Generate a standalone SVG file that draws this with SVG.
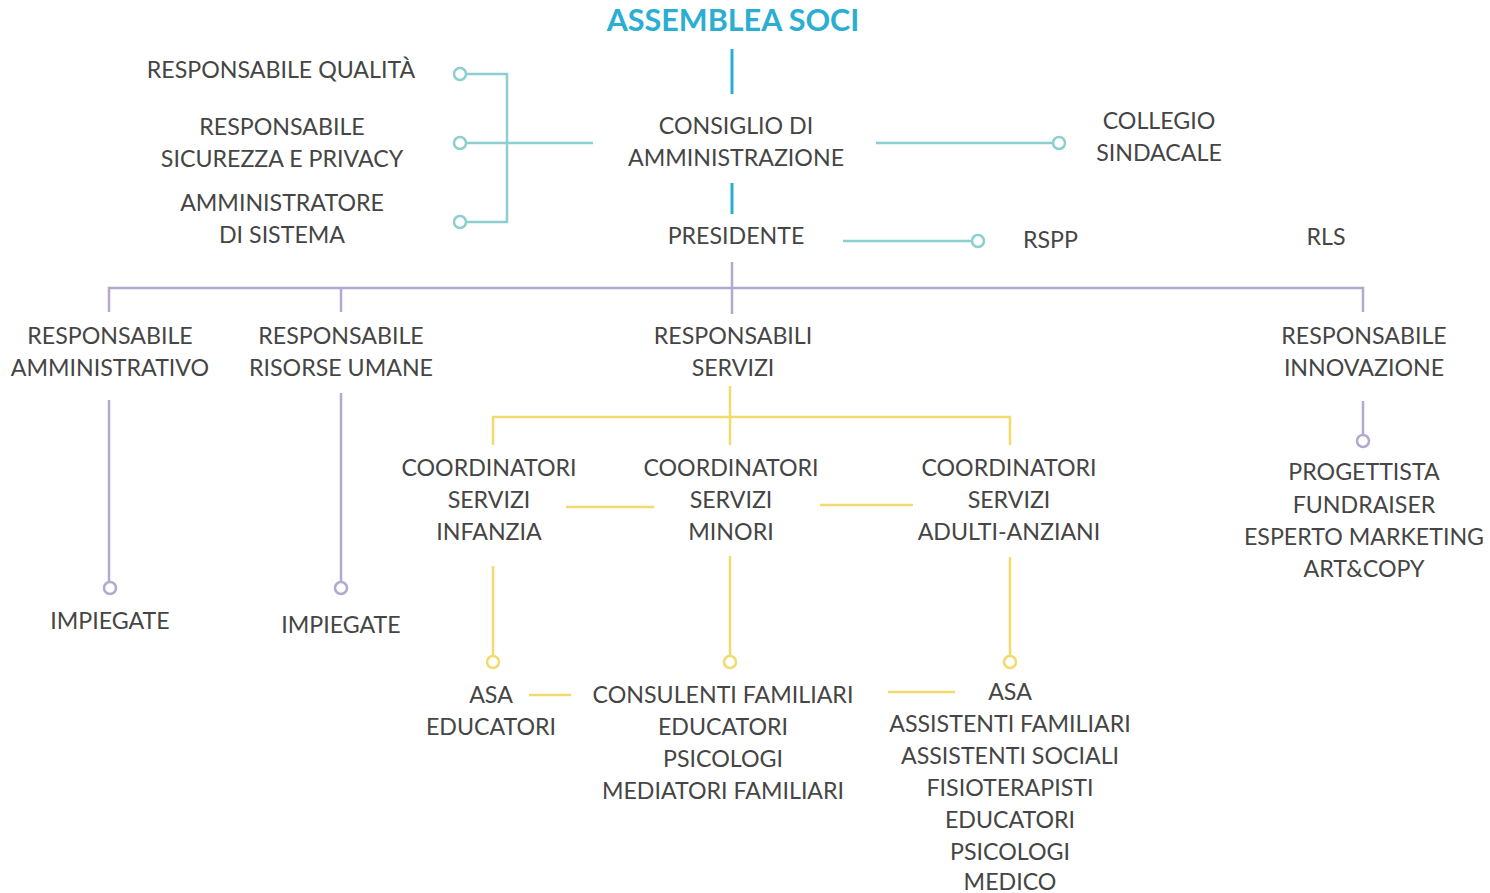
<svg xmlns="http://www.w3.org/2000/svg" width="1490" height="893" viewBox="0 0 1490 893">
<style>
text{font-family:Lato,"Open Sans","Liberation Sans",sans-serif;font-size:23.2px;fill:#454545;text-anchor:middle}
.title{font-size:30.5px;font-weight:bold;fill:#2aaed2}
.st{text-anchor:start}
.blue{stroke:#2aaed2;stroke-width:3;fill:none}
.teal{stroke:#8dcfcf;stroke-width:2.5;fill:none}
.tealc{stroke:#8dcfcf;stroke-width:2.5;fill:#fff}
.pur{stroke:#b3a9cf;stroke-width:2.5;fill:none}
.purc{stroke:#b3a9cf;stroke-width:2.5;fill:#fff}
.yel{stroke:#f2da6c;stroke-width:2.5;fill:none}
.yelc{stroke:#f2da6c;stroke-width:2.5;fill:#fff}
</style>
<g id="connectors">
<line class="blue" x1="732" y1="49" x2="732" y2="94"/>
<line class="blue" x1="732" y1="183" x2="732" y2="214"/>
<path class="teal" d="M466 74H507V222H466M466 143H593"/>
<circle class="tealc" cx="460" cy="74" r="6"/>
<circle class="tealc" cx="460" cy="143" r="6"/>
<circle class="tealc" cx="460" cy="222" r="6"/>
<line class="teal" x1="876" y1="143" x2="1052" y2="143"/>
<circle class="tealc" cx="1059" cy="143" r="6"/>
<line class="teal" x1="843" y1="241" x2="971" y2="241"/>
<circle class="tealc" cx="978" cy="241" r="6"/>
<path class="pur" d="M732 262V314M109 312V288H1363V312M341 288V312"/>
<line class="pur" x1="109" y1="400" x2="109" y2="581"/>
<circle class="purc" cx="110" cy="588" r="6"/>
<line class="pur" x1="341" y1="393" x2="341" y2="581"/>
<circle class="purc" cx="341" cy="588" r="6"/>
<line class="pur" x1="1363" y1="401" x2="1363" y2="434"/>
<circle class="purc" cx="1363" cy="441" r="6"/>
<path class="yel" d="M730 386V445M493 445V417H1010V445"/>
<line class="yel" x1="566" y1="507" x2="654" y2="507"/>
<line class="yel" x1="820" y1="505" x2="913" y2="505"/>
<line class="yel" x1="493" y1="566" x2="493" y2="655"/>
<circle class="yelc" cx="493" cy="662" r="6"/>
<line class="yel" x1="730" y1="556" x2="730" y2="655"/>
<circle class="yelc" cx="730" cy="662" r="6"/>
<line class="yel" x1="1010" y1="557" x2="1010" y2="655"/>
<circle class="yelc" cx="1010" cy="662" r="6"/>
<line class="yel" x1="529" y1="695" x2="571" y2="695"/>
<line class="yel" x1="888" y1="692" x2="955" y2="692"/>
</g>
<g id="assemblea"><text class="title" x="733" y="31">ASSEMBLEA SOCI</text></g>
<g id="consiglio"><text x="736" y="134">CONSIGLIO DI</text><text x="736" y="166">AMMINISTRAZIONE</text></g>
<g id="presidente"><text x="736" y="244">PRESIDENTE</text></g>
<g id="qualita"><text x="281" y="78">RESPONSABILE QUALITÀ</text></g>
<g id="sicurezza"><text x="282" y="135">RESPONSABILE</text><text x="282" y="167">SICUREZZA E PRIVACY</text></g>
<g id="amministratore"><text x="282" y="211">AMMINISTRATORE</text><text x="282" y="243">DI SISTEMA</text></g>
<g id="collegio"><text x="1159" y="129">COLLEGIO</text><text x="1159" y="161">SINDACALE</text></g>
<g id="rspp"><text class="st" x="1023" y="248">RSPP</text></g>
<g id="rls"><text x="1326" y="245">RLS</text></g>
<g id="resp-amm"><text x="110" y="344">RESPONSABILE</text><text x="110" y="376">AMMINISTRATIVO</text></g>
<g id="resp-ru"><text x="341" y="344">RESPONSABILE</text><text x="341" y="376">RISORSE UMANE</text></g>
<g id="resp-servizi"><text x="733" y="344">RESPONSABILI</text><text x="733" y="376">SERVIZI</text></g>
<g id="resp-innovazione"><text x="1364" y="344">RESPONSABILE</text><text x="1364" y="376">INNOVAZIONE</text></g>
<g id="impiegate1"><text x="110" y="629">IMPIEGATE</text></g>
<g id="impiegate2"><text x="341" y="633">IMPIEGATE</text></g>
<g id="innovazione-staff"><text x="1364" y="480">PROGETTISTA</text><text x="1364" y="513">FUNDRAISER</text><text x="1364" y="545">ESPERTO MARKETING</text><text x="1364" y="577">ART&amp;COPY</text></g>
<g id="coord-infanzia"><text x="489" y="476">COORDINATORI</text><text x="489" y="508">SERVIZI</text><text x="489" y="540">INFANZIA</text></g>
<g id="coord-minori"><text x="731" y="476">COORDINATORI</text><text x="731" y="508">SERVIZI</text><text x="731" y="540">MINORI</text></g>
<g id="coord-adulti"><text x="1009" y="476">COORDINATORI</text><text x="1009" y="508">SERVIZI</text><text x="1009" y="540">ADULTI-ANZIANI</text></g>
<g id="staff-infanzia"><text x="491" y="703">ASA</text><text x="491" y="735">EDUCATORI</text></g>
<g id="staff-minori"><text x="723" y="703">CONSULENTI FAMILIARI</text><text x="723" y="735">EDUCATORI</text><text x="723" y="767">PSICOLOGI</text><text x="723" y="799">MEDIATORI FAMILIARI</text></g>
<g id="staff-adulti"><text x="1010" y="700">ASA</text><text x="1010" y="732">ASSISTENTI FAMILIARI</text><text x="1010" y="764">ASSISTENTI SOCIALI</text><text x="1010" y="796">FISIOTERAPISTI</text><text x="1010" y="828">EDUCATORI</text><text x="1010" y="860">PSICOLOGI</text><text x="1010" y="890">MEDICO</text></g>
</svg>
